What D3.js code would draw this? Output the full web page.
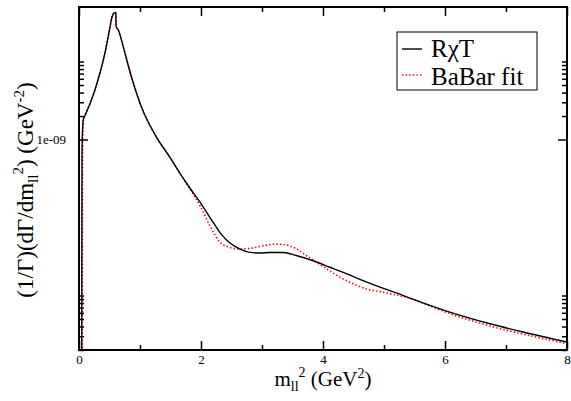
<!DOCTYPE html>
<html>
<head>
<meta charset="utf-8">
<script src="https://cdn.jsdelivr.net/npm/d3@7"></script>
<style>
  html, body { margin: 0; padding: 0; background: #fff; }
  svg { display: block; }
  svg text { font-family: "Liberation Serif", "Times New Roman", Times, serif; }
</style>
</head>
<body>
<svg id="chart" width="571" height="401"></svg>
<script>
// Differential rate vs dilepton invariant mass squared (GeV^2)
const rxtX = [0.045, 0.046, 0.049, 0.053, 0.070, 0.098, 0.180, 0.262, 0.344, 0.426, 0.475, 0.508, 0.541, 0.574, 0.598, 0.603, 0.609, 0.644, 0.726, 0.836, 0.946, 1.054, 1.164, 1.274, 1.492, 1.656, 1.820, 1.984, 2.197, 2.344, 2.475, 2.639, 2.803, 2.967, 3.131, 3.344, 3.574, 3.836, 4.115, 4.393, 4.656, 4.934, 5.213, 5.426, 6.000, 6.738, 7.279, 8.000];
const rxtY = [1e-12, 2e-11, 5e-10, 1.0e-9, 1.80e-9, 2.03e-9, 2.88e-9, 4.35e-9, 7.17e-9, 1.29e-8, 2.01e-8, 2.77e-8, 3.72e-8, 4.19e-8, 4.25e-8, 4.15e-8, 2.80e-8, 2.54e-8, 1.54e-8, 7.39e-9, 3.87e-9, 2.28e-9, 1.51e-9, 1.06e-9, 5.89e-10, 3.68e-10, 2.37e-10, 1.57e-10, 8.71e-11, 5.94e-11, 4.70e-11, 3.94e-11, 3.57e-11, 3.50e-11, 3.55e-11, 3.55e-11, 3.23e-11, 2.79e-11, 2.30e-11, 1.89e-11, 1.55e-11, 1.28e-11, 1.07e-11, 9.24e-12, 6.41e-12, 4.34e-12, 3.40e-12, 2.53e-12];

const fitX = [0.055, 0.056, 0.058, 0.062, 0.070, 0.098, 0.180, 0.262, 0.344, 0.426, 0.475, 0.508, 0.541, 0.574, 0.598, 0.603, 0.609, 0.644, 0.726, 0.836, 0.946, 1.054, 1.164, 1.274, 1.492, 1.656, 1.820, 1.984, 2.148, 2.311, 2.475, 2.639, 2.803, 3.021, 3.241, 3.405, 3.569, 3.733, 3.897, 4.061, 4.279, 4.497, 4.716, 4.934, 5.152, 5.372, 5.536, 6.005, 6.738, 7.284, 8.000];
const fitY = [1e-12, 2e-11, 4e-10, 1.1e-9, 1.72e-9, 2.03e-9, 2.88e-9, 4.35e-9, 7.17e-9, 1.29e-8, 2.01e-8, 2.77e-8, 3.72e-8, 4.19e-8, 4.25e-8, 4.15e-8, 2.80e-8, 2.54e-8, 1.54e-8, 7.39e-9, 3.87e-9, 2.28e-9, 1.51e-9, 1.06e-9, 5.89e-10, 3.68e-10, 2.30e-10, 1.41e-10, 7.81e-11, 4.80e-11, 4.14e-11, 3.94e-11, 4.02e-11, 4.34e-11, 4.56e-11, 4.43e-11, 3.94e-11, 3.23e-11, 2.66e-11, 2.19e-11, 1.71e-11, 1.41e-11, 1.21e-11, 1.12e-11, 1.03e-11, 9.46e-12, 8.53e-12, 6.12e-12, 4.06e-12, 3.19e-12, 2.41e-12];

const xMajorTicks = [0, 2, 4, 6, 8];
const xMinorTicks = [1, 3, 5, 7];
const yMajorTicks = [1e-9];
const yMajorLabels = ["1e-09"];
const yMinorTicks = [2e-12, 3e-12, 4e-12, 5e-12, 6e-12, 7e-12, 8e-12, 9e-12, 1e-11,
                     2e-9, 3e-9, 4e-9, 5e-9, 6e-9, 7e-9, 8e-9, 9e-9, 1e-8];
const seriesNames = ["R\u03C7T", "BaBar fit"];

const FONT = "'Liberation Serif', 'Times New Roman', Times, serif";
const L = 79, R = 567, T = 7, B = 350;
const svg = d3.select("#chart");

const x = d3.scaleLinear().domain([0, 8]).range([L, R]);
const y = d3.scaleLog().domain([2e-12, 5e-8]).range([B, T]);
const yIn = v => v >= y.domain()[0] && v <= y.domain()[1];

svg.append("defs").append("clipPath").attr("id", "plotclip")
  .append("rect").attr("x", L).attr("y", T).attr("width", R - L).attr("height", B - T);

// axes: ticks point inward on all four sides
function styleAxis(g) {
  g.attr("font-family", FONT);
  g.select(".domain").remove();
  g.selectAll(".tick line").attr("stroke", "#000").attr("stroke-width", 1.5);
  g.selectAll(".tick text").attr("fill", "#000").attr("font-family", FONT).attr("font-size", 13);
}
svg.append("g").attr("transform", `translate(0,${B})`)
  .call(d3.axisBottom(x).tickValues(xMajorTicks).tickSize(-9).tickPadding(5).tickFormat(d3.format("d")))
  .call(styleAxis);
svg.append("g").attr("transform", `translate(0,${B})`)
  .call(d3.axisBottom(x).tickValues(xMinorTicks).tickSize(-5).tickFormat(""))
  .call(styleAxis);
svg.append("g").attr("transform", `translate(0,${T})`)
  .call(d3.axisTop(x).tickValues(xMajorTicks).tickSize(-9).tickFormat(""))
  .call(styleAxis);
svg.append("g").attr("transform", `translate(0,${T})`)
  .call(d3.axisTop(x).tickValues(xMinorTicks).tickSize(-5).tickFormat(""))
  .call(styleAxis);

svg.append("g").attr("transform", `translate(${L},0)`)
  .call(d3.axisLeft(y).tickValues(yMajorTicks).tickSize(-9).tickPadding(13)
    .tickFormat((d, i) => yMajorLabels[i]))
  .call(styleAxis);
svg.append("g").attr("transform", `translate(${L},0)`)
  .call(d3.axisLeft(y).tickValues(yMinorTicks.filter(yIn)).tickSize(-5).tickFormat(""))
  .call(styleAxis);
svg.append("g").attr("transform", `translate(${R},0)`)
  .call(d3.axisRight(y).tickValues(yMajorTicks).tickSize(-9).tickFormat(""))
  .call(styleAxis);
svg.append("g").attr("transform", `translate(${R},0)`)
  .call(d3.axisRight(y).tickValues(yMinorTicks.filter(yIn)).tickSize(-5).tickFormat(""))
  .call(styleAxis);

// curves
const line = d3.line()
  .x(d => x(d[0]))
  .y(d => y(d[1]))
  .curve(d3.curveMonotoneX);

const plot = svg.append("g").attr("clip-path", "url(#plotclip)");
plot.append("path")
  .datum(fitX.map((v, i) => [v, fitY[i]]))
  .attr("d", line).attr("fill", "none")
  .attr("stroke", "#ff0000").attr("stroke-width", 1.6).attr("stroke-dasharray", "1.4,2.2");
plot.append("path")
  .datum(rxtX.map((v, i) => [v, rxtY[i]]))
  .attr("d", line).attr("fill", "none")
  .attr("stroke", "#000").attr("stroke-width", 1.4);

// frame
svg.append("rect").attr("x", L).attr("y", T).attr("width", R - L).attr("height", B - T)
  .attr("fill", "none").attr("stroke", "#000").attr("stroke-width", 2);

// axis titles
const xt = svg.append("text").attr("x", 323).attr("y", 386)
  .attr("text-anchor", "middle").attr("font-family", FONT).attr("font-size", 21).attr("fill", "#000");
xt.append("tspan").text("m");
xt.append("tspan").attr("dy", 5).attr("font-size", 14).text("ll");
xt.append("tspan").attr("dy", -14).attr("font-size", 14).text("2");
xt.append("tspan").attr("dy", 9).text(" (GeV");
xt.append("tspan").attr("dy", -8).attr("font-size", 14).text("2");
xt.append("tspan").attr("dy", 8).text(")");

const yt = svg.append("text").attr("transform", "translate(33,190) rotate(-90)")
  .attr("text-anchor", "middle").attr("font-family", FONT).attr("font-size", 23).attr("fill", "#000");
yt.append("tspan").text("(1/\u0393)(d\u0393/dm");
yt.append("tspan").attr("dy", 5).attr("font-size", 15).text("ll");
yt.append("tspan").attr("dy", -15).attr("font-size", 15).text("2");
yt.append("tspan").attr("dy", 10).text(") (GeV");
yt.append("tspan").attr("dy", -9).attr("font-size", 15).text("-2");
yt.append("tspan").attr("dy", 9).text(")");

// legend
const lg = svg.append("g");
lg.append("rect").attr("x", 397).attr("y", 32).attr("width", 140).attr("height", 58)
  .attr("fill", "#fff").attr("stroke", "#000").attr("stroke-width", 1);
lg.append("line").attr("x1", 402).attr("x2", 422).attr("y1", 49).attr("y2", 49)
  .attr("stroke", "#000").attr("stroke-width", 1.4);
lg.append("line").attr("x1", 402).attr("x2", 422).attr("y1", 75).attr("y2", 75)
  .attr("stroke", "#ff0000").attr("stroke-width", 1.6).attr("stroke-dasharray", "1.4,2.2");
lg.selectAll("text.lab").data(seriesNames).join("text").attr("class", "lab")
  .attr("x", 431).attr("y", (d, i) => 57 + i * 28)
  .attr("font-family", FONT).attr("font-size", 25).attr("fill", "#000").text(d => d);
</script>
</body>
</html>
